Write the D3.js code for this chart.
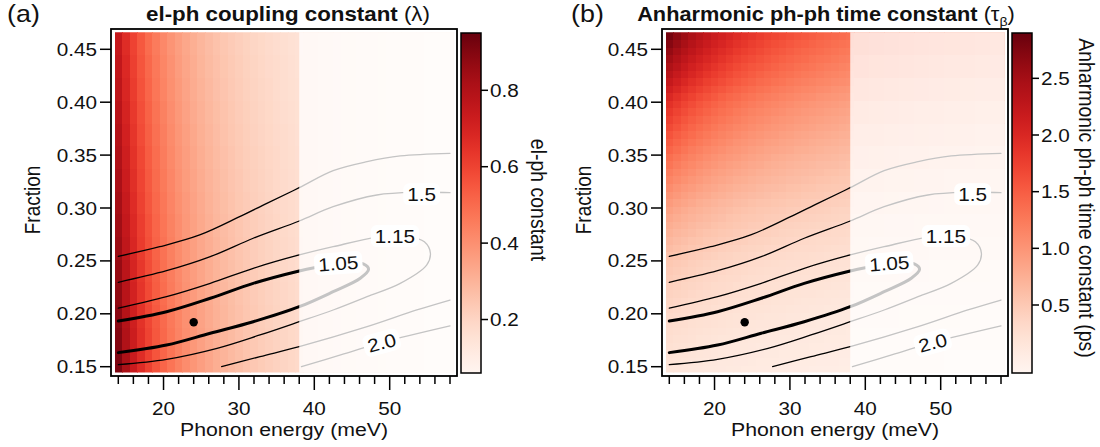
<!DOCTYPE html>
<html><head><meta charset="utf-8">
<script src="https://cdn.jsdelivr.net/npm/d3@7"></script>
<style>body{margin:0;background:#fff}svg{display:block}</style>
</head><body><svg id="chart" width="1100" height="447"></svg>
<script>
// ---------------- DATA ----------------
const energiesLeft = [14,15,16,17,18,19,20,21,22,23,24,25,26,27,28,29,30,31,32,33,34,35,36,37,38];
const energiesRightA = [39,40,41,42,43,44,45,46,47,48,49,50,51,52,53,54,55,56,57,58];
const energiesRightB = [39.5,41.5,43.5,45.5,47.5,49.5,51.5,53.5,55.5,57.5];
const fractionRows = [0.1480,0.1552,0.1623,0.1695,0.1766,0.1838,0.1909,0.1981,0.2052,0.2124,0.2195,0.2267,0.2338,0.2410,0.2481,0.2553,0.2624,0.2696,0.2767,0.2839,0.2910,0.2982,0.3053,0.3125,0.3196,0.3268,0.3339,0.3411,0.3482,0.3554,0.3625,0.3697,0.3768,0.3840,0.3911,0.3983,0.4054,0.4126,0.4197,0.4269,0.4340,0.4412,0.4483,0.4555,0.4626];
const fractionBands = [0.1552,0.1766,0.1981,0.2195,0.2410,0.2624,0.2839,0.3053,0.3268,0.3482,0.3697,0.3911,0.4126,0.4340,0.4555];

// el-ph coupling constant (lambda): rows = fractionBands (bottom->top), cols = energiesLeft
const lambdaLeft = [
[0.909,0.814,0.734,0.666,0.608,0.558,0.514,0.475,0.441,0.411,0.384,0.360,0.338,0.318,0.300,0.284,0.269,0.255,0.242,0.231,0.220,0.210,0.201,0.192,0.184],
[0.897,0.803,0.725,0.657,0.600,0.550,0.507,0.469,0.435,0.405,0.379,0.355,0.333,0.314,0.296,0.280,0.265,0.251,0.239,0.227,0.217,0.207,0.198,0.189,0.182],
[0.886,0.793,0.716,0.649,0.593,0.544,0.501,0.463,0.430,0.400,0.374,0.350,0.329,0.310,0.292,0.276,0.262,0.248,0.236,0.225,0.214,0.204,0.195,0.187,0.179],
[0.874,0.783,0.706,0.641,0.585,0.536,0.494,0.457,0.424,0.395,0.369,0.346,0.325,0.306,0.288,0.273,0.258,0.245,0.233,0.222,0.211,0.202,0.193,0.185,0.177],
[0.862,0.772,0.696,0.632,0.577,0.529,0.487,0.451,0.418,0.390,0.364,0.341,0.320,0.301,0.284,0.269,0.255,0.242,0.230,0.219,0.208,0.199,0.190,0.182,0.174],
[0.850,0.761,0.687,0.623,0.569,0.521,0.480,0.444,0.412,0.384,0.359,0.336,0.316,0.297,0.280,0.265,0.251,0.238,0.226,0.216,0.206,0.196,0.188,0.180,0.172],
[0.839,0.751,0.678,0.615,0.561,0.515,0.474,0.439,0.407,0.379,0.354,0.332,0.312,0.293,0.277,0.262,0.248,0.235,0.224,0.213,0.203,0.194,0.185,0.177,0.170],
[0.827,0.741,0.668,0.606,0.553,0.507,0.467,0.432,0.401,0.374,0.349,0.327,0.307,0.289,0.273,0.258,0.244,0.232,0.220,0.210,0.200,0.191,0.182,0.175,0.167],
[0.815,0.730,0.658,0.597,0.545,0.500,0.461,0.426,0.395,0.368,0.344,0.322,0.303,0.285,0.269,0.254,0.241,0.228,0.217,0.207,0.197,0.188,0.180,0.172,0.165],
[0.804,0.720,0.649,0.589,0.538,0.493,0.454,0.420,0.390,0.363,0.339,0.318,0.299,0.281,0.265,0.251,0.237,0.225,0.214,0.204,0.194,0.186,0.177,0.170,0.163],
[0.792,0.709,0.640,0.580,0.530,0.486,0.448,0.414,0.384,0.358,0.334,0.313,0.294,0.277,0.261,0.247,0.234,0.222,0.211,0.201,0.192,0.183,0.175,0.167,0.160],
[0.780,0.698,0.630,0.572,0.522,0.479,0.441,0.408,0.378,0.353,0.329,0.308,0.290,0.273,0.257,0.243,0.230,0.219,0.208,0.198,0.189,0.180,0.172,0.165,0.158],
[0.768,0.688,0.620,0.563,0.514,0.471,0.434,0.401,0.373,0.347,0.324,0.304,0.285,0.268,0.253,0.240,0.227,0.215,0.205,0.195,0.186,0.177,0.169,0.162,0.155],
[0.757,0.678,0.611,0.555,0.506,0.464,0.428,0.396,0.367,0.342,0.320,0.299,0.281,0.265,0.250,0.236,0.224,0.212,0.202,0.192,0.183,0.175,0.167,0.160,0.153],
[0.745,0.667,0.602,0.546,0.498,0.457,0.421,0.389,0.361,0.337,0.315,0.295,0.277,0.260,0.246,0.232,0.220,0.209,0.198,0.189,0.180,0.172,0.164,0.157,0.151]
];
const lambdaRight = [0.161,0.154,0.148,0.143,0.137,0.132,0.128,0.123,0.119,0.115,0.111,0.108,0.105,0.101,0.098,0.095,0.093,0.090,0.087,0.085];

// anharmonic ph-ph time constant (ps): rows = fractionRows (bottom->top), cols = energiesLeft
const tauLeft = [
[0.16,0.15,0.14,0.13,0.12,0.11,0.11,0.10,0.09,0.09,0.08,0.08,0.07,0.07,0.06,0.06,0.05,0.05,0.05,0.04,0.04,0.04,0.04,0.03,0.03],
[0.19,0.17,0.16,0.15,0.14,0.13,0.12,0.11,0.11,0.10,0.10,0.09,0.08,0.08,0.08,0.07,0.07,0.06,0.06,0.06,0.05,0.05,0.05,0.04,0.04],
[0.21,0.19,0.18,0.17,0.16,0.15,0.14,0.13,0.12,0.12,0.11,0.10,0.10,0.09,0.09,0.08,0.08,0.08,0.07,0.07,0.06,0.06,0.06,0.05,0.05],
[0.23,0.21,0.20,0.19,0.18,0.17,0.16,0.15,0.14,0.13,0.13,0.12,0.11,0.11,0.10,0.10,0.09,0.09,0.09,0.08,0.08,0.07,0.07,0.07,0.06],
[0.25,0.23,0.22,0.21,0.19,0.18,0.17,0.16,0.16,0.15,0.14,0.13,0.13,0.12,0.12,0.11,0.11,0.10,0.10,0.09,0.09,0.08,0.08,0.08,0.07],
[0.27,0.25,0.24,0.22,0.21,0.20,0.19,0.18,0.17,0.16,0.16,0.15,0.14,0.13,0.13,0.12,0.12,0.11,0.11,0.10,0.10,0.10,0.09,0.09,0.08],
[0.29,0.27,0.26,0.24,0.23,0.22,0.21,0.20,0.19,0.18,0.17,0.16,0.15,0.15,0.14,0.14,0.13,0.13,0.12,0.12,0.11,0.11,0.10,0.10,0.10],
[0.31,0.29,0.28,0.26,0.25,0.23,0.22,0.21,0.20,0.19,0.18,0.18,0.17,0.16,0.16,0.15,0.14,0.14,0.13,0.13,0.12,0.12,0.11,0.11,0.11],
[0.34,0.32,0.30,0.29,0.27,0.26,0.24,0.23,0.22,0.21,0.20,0.19,0.19,0.18,0.17,0.17,0.16,0.15,0.15,0.14,0.14,0.13,0.13,0.12,0.12],
[0.37,0.35,0.33,0.31,0.30,0.28,0.27,0.25,0.24,0.23,0.22,0.21,0.21,0.20,0.19,0.18,0.18,0.17,0.16,0.16,0.15,0.15,0.14,0.14,0.13],
[0.40,0.38,0.36,0.34,0.32,0.30,0.29,0.28,0.27,0.25,0.24,0.23,0.22,0.22,0.21,0.20,0.19,0.19,0.18,0.18,0.17,0.16,0.16,0.15,0.15],
[0.43,0.41,0.38,0.36,0.35,0.33,0.31,0.30,0.29,0.27,0.26,0.25,0.24,0.24,0.23,0.22,0.21,0.20,0.20,0.19,0.19,0.18,0.17,0.17,0.16],
[0.46,0.43,0.41,0.39,0.37,0.35,0.34,0.32,0.31,0.30,0.28,0.27,0.26,0.25,0.25,0.24,0.23,0.22,0.21,0.21,0.20,0.20,0.19,0.18,0.18],
[0.49,0.46,0.44,0.42,0.40,0.38,0.36,0.35,0.33,0.32,0.31,0.29,0.28,0.27,0.26,0.26,0.25,0.24,0.23,0.22,0.22,0.21,0.21,0.20,0.19],
[0.52,0.49,0.47,0.44,0.42,0.40,0.38,0.37,0.35,0.34,0.33,0.31,0.30,0.29,0.28,0.27,0.26,0.26,0.25,0.24,0.23,0.23,0.22,0.21,0.21],
[0.57,0.54,0.51,0.48,0.46,0.44,0.42,0.40,0.39,0.37,0.36,0.35,0.33,0.32,0.31,0.30,0.29,0.28,0.28,0.27,0.26,0.25,0.25,0.24,0.23],
[0.62,0.59,0.56,0.53,0.50,0.48,0.46,0.44,0.42,0.41,0.39,0.38,0.37,0.35,0.34,0.33,0.32,0.31,0.30,0.30,0.29,0.28,0.27,0.26,0.26],
[0.67,0.63,0.60,0.57,0.55,0.52,0.50,0.48,0.46,0.44,0.43,0.41,0.40,0.39,0.37,0.36,0.35,0.34,0.33,0.32,0.31,0.31,0.30,0.29,0.28],
[0.72,0.68,0.65,0.62,0.59,0.56,0.54,0.52,0.50,0.48,0.46,0.45,0.43,0.42,0.41,0.39,0.38,0.37,0.36,0.35,0.34,0.33,0.32,0.32,0.31],
[0.77,0.73,0.70,0.66,0.63,0.61,0.58,0.56,0.54,0.52,0.50,0.48,0.47,0.45,0.44,0.42,0.41,0.40,0.39,0.38,0.37,0.36,0.35,0.34,0.33],
[0.82,0.78,0.74,0.71,0.68,0.65,0.62,0.60,0.57,0.55,0.53,0.52,0.50,0.48,0.47,0.46,0.44,0.43,0.42,0.41,0.40,0.39,0.38,0.37,0.36],
[0.88,0.83,0.79,0.75,0.72,0.69,0.66,0.64,0.61,0.59,0.57,0.55,0.53,0.52,0.50,0.49,0.47,0.46,0.45,0.44,0.43,0.42,0.40,0.39,0.39],
[0.94,0.89,0.85,0.81,0.77,0.74,0.71,0.68,0.66,0.63,0.61,0.59,0.57,0.56,0.54,0.53,0.51,0.50,0.48,0.47,0.46,0.45,0.44,0.43,0.42],
[1.01,0.96,0.91,0.87,0.83,0.80,0.76,0.74,0.71,0.68,0.66,0.64,0.62,0.60,0.58,0.57,0.55,0.54,0.52,0.51,0.50,0.48,0.47,0.46,0.45],
[1.08,1.02,0.97,0.93,0.89,0.85,0.82,0.79,0.76,0.73,0.71,0.69,0.66,0.64,0.63,0.61,0.59,0.58,0.56,0.55,0.53,0.52,0.51,0.50,0.49],
[1.15,1.09,1.04,0.99,0.95,0.91,0.87,0.84,0.81,0.78,0.76,0.73,0.71,0.69,0.67,0.65,0.63,0.62,0.60,0.59,0.57,0.56,0.54,0.53,0.52],
[1.21,1.15,1.10,1.05,1.00,0.96,0.92,0.89,0.86,0.83,0.80,0.78,0.75,0.73,0.71,0.69,0.67,0.65,0.64,0.62,0.61,0.59,0.58,0.56,0.55],
[1.29,1.22,1.16,1.11,1.06,1.02,0.98,0.94,0.91,0.88,0.85,0.82,0.80,0.77,0.75,0.73,0.71,0.69,0.68,0.66,0.64,0.63,0.62,0.60,0.59],
[1.35,1.28,1.22,1.17,1.12,1.07,1.03,0.99,0.96,0.93,0.90,0.87,0.84,0.82,0.79,0.77,0.75,0.73,0.71,0.70,0.68,0.67,0.65,0.63,0.62],
[1.43,1.36,1.29,1.23,1.18,1.13,1.09,1.05,1.01,0.98,0.95,0.92,0.89,0.86,0.84,0.82,0.80,0.77,0.76,0.74,0.72,0.70,0.69,0.67,0.66],
[1.51,1.43,1.36,1.30,1.25,1.20,1.15,1.11,1.07,1.03,1.00,0.97,0.94,0.91,0.89,0.86,0.84,0.82,0.80,0.78,0.76,0.75,0.73,0.71,0.70],
[1.58,1.50,1.43,1.37,1.31,1.26,1.21,1.17,1.13,1.09,1.05,1.02,0.99,0.96,0.94,0.91,0.89,0.86,0.84,0.82,0.80,0.79,0.77,0.75,0.74],
[1.66,1.58,1.50,1.43,1.37,1.32,1.27,1.22,1.18,1.14,1.11,1.07,1.04,1.01,0.98,0.96,0.93,0.91,0.89,0.87,0.84,0.83,0.81,0.79,0.77],
[1.74,1.65,1.57,1.50,1.44,1.38,1.33,1.28,1.24,1.20,1.16,1.12,1.09,1.06,1.03,1.00,0.98,0.95,0.93,0.91,0.89,0.87,0.85,0.83,0.81],
[1.81,1.72,1.64,1.57,1.51,1.45,1.39,1.34,1.30,1.25,1.21,1.17,1.14,1.11,1.08,1.05,1.02,1.00,0.97,0.95,0.93,0.91,0.89,0.87,0.85],
[1.89,1.80,1.71,1.64,1.57,1.51,1.45,1.40,1.35,1.31,1.27,1.23,1.19,1.16,1.13,1.10,1.07,1.04,1.02,0.99,0.97,0.95,0.93,0.91,0.89],
[1.99,1.89,1.80,1.73,1.65,1.59,1.53,1.47,1.42,1.38,1.33,1.29,1.25,1.22,1.19,1.16,1.13,1.10,1.07,1.05,1.02,1.00,0.98,0.96,0.94],
[2.10,2.00,1.90,1.82,1.75,1.68,1.61,1.56,1.50,1.45,1.41,1.36,1.32,1.29,1.25,1.22,1.19,1.16,1.13,1.11,1.08,1.06,1.03,1.01,0.99],
[2.21,2.10,2.00,1.91,1.84,1.76,1.70,1.64,1.58,1.53,1.48,1.44,1.39,1.36,1.32,1.29,1.25,1.22,1.19,1.17,1.14,1.12,1.09,1.07,1.05],
[2.32,2.20,2.10,2.01,1.93,1.85,1.78,1.72,1.66,1.60,1.56,1.51,1.46,1.42,1.39,1.35,1.32,1.28,1.25,1.23,1.20,1.17,1.15,1.12,1.10],
[2.41,2.30,2.19,2.09,2.01,1.93,1.86,1.79,1.73,1.67,1.62,1.57,1.53,1.49,1.45,1.41,1.38,1.34,1.31,1.28,1.25,1.22,1.20,1.17,1.15],
[2.51,2.39,2.28,2.18,2.09,2.01,1.94,1.87,1.80,1.74,1.69,1.64,1.59,1.55,1.51,1.47,1.43,1.40,1.37,1.33,1.30,1.28,1.25,1.22,1.20],
[2.61,2.48,2.37,2.27,2.18,2.09,2.01,1.94,1.88,1.81,1.76,1.71,1.66,1.61,1.57,1.53,1.49,1.45,1.42,1.39,1.36,1.33,1.30,1.27,1.25],
[2.71,2.58,2.46,2.35,2.26,2.17,2.09,2.02,1.95,1.88,1.83,1.77,1.72,1.67,1.63,1.59,1.55,1.51,1.48,1.44,1.41,1.38,1.35,1.32,1.30],
[2.81,2.67,2.55,2.44,2.34,2.25,2.16,2.09,2.02,1.95,1.89,1.84,1.78,1.73,1.69,1.65,1.61,1.57,1.53,1.50,1.46,1.43,1.40,1.37,1.34]
];
// rows = fractionBands, cols = energiesRightB
const tauRight = [
[0.04,0.03,0.03,0.02,0.02,0.02,0.01,0.01,0.01,0.01],
[0.07,0.06,0.06,0.05,0.05,0.04,0.04,0.04,0.03,0.03],
[0.10,0.09,0.09,0.08,0.08,0.07,0.07,0.06,0.06,0.05],
[0.14,0.13,0.13,0.12,0.11,0.11,0.10,0.10,0.09,0.09],
[0.19,0.18,0.17,0.16,0.15,0.14,0.14,0.13,0.13,0.12],
[0.25,0.24,0.23,0.22,0.21,0.20,0.19,0.18,0.17,0.17],
[0.32,0.31,0.29,0.28,0.27,0.26,0.25,0.24,0.23,0.22],
[0.40,0.39,0.37,0.36,0.34,0.33,0.32,0.31,0.30,0.29],
[0.50,0.48,0.46,0.45,0.43,0.42,0.40,0.39,0.38,0.36],
[0.60,0.58,0.56,0.54,0.52,0.50,0.48,0.47,0.45,0.44],
[0.71,0.69,0.66,0.64,0.62,0.60,0.58,0.56,0.54,0.53],
[0.83,0.79,0.77,0.74,0.71,0.69,0.67,0.65,0.63,0.61],
[0.96,0.93,0.89,0.86,0.84,0.81,0.78,0.76,0.74,0.72],
[1.12,1.07,1.04,1.00,0.97,0.94,0.91,0.88,0.86,0.84],
[1.26,1.21,1.17,1.13,1.10,1.06,1.03,1.00,0.97,0.95]
];

// contour lines [energy meV, fraction]
const contour2p0Upper = [[14,0.2543],[19.5,0.2634],[24.8,0.2745],[30.1,0.2918],[33.7,0.3044],[38.0,0.3192],[42.5,0.3353],[47.0,0.3438],[51.4,0.3492],[58.0,0.3517]];
const contour1p5Upper = [[14,0.2298],[20.4,0.2407],[26.2,0.2540],[31.9,0.2714],[38.0,0.2877],[42.5,0.3012],[48.3,0.3123],[54.0,0.3148],[58,0.3145]];
const contour1p15 = [[14,0.2053],[20.4,0.2162],[26.2,0.2288],[31.9,0.2430],[38.0,0.2556],[42.5,0.2634],[48.3,0.2723],[52.5,0.2730],[54.6,0.2680],[55.4,0.2572],[54.9,0.2461],[51.4,0.2288],[47.0,0.2162],[42.5,0.2036],[38.0,0.1925],[32.8,0.1800],[27.1,0.1674],[20.4,0.1570],[14,0.1520]];
const contour1p05 = [[14,0.1931],[20.4,0.2020],[26.2,0.2147],[31.9,0.2288],[38.0,0.2405],[40.3,0.2440],[43.2,0.2477],[46.5,0.2471],[47.2,0.2421],[46.1,0.2336],[42.5,0.2209],[38.0,0.2067],[31.9,0.1925],[26.2,0.1816],[20.4,0.1705],[14,0.1633]];
const contour1p5Lower = [[27.7,0.1500],[32.8,0.1595],[38.0,0.1689],[47.0,0.1878],[53.6,0.2036],[58,0.2130]];
const contour2p0Lower = [[38.3,0.1500],[43.6,0.1614],[48.9,0.1727],[58,0.1885]];
const contourLevels = [
  {pts: contour2p0Upper, w: 1.3}, {pts: contour1p5Upper, w: 1.3}, {pts: contour1p15, w: 1.3},
  {pts: contour1p05, w: 3.0}, {pts: contour1p5Lower, w: 1.3}, {pts: contour2p0Lower, w: 1.3}
];
const contourLabels = [
  {text: "1.5", e: 54.24, f: 0.3130, angle: 0},
  {text: "1.15", e: 50.7, f: 0.2735, angle: 0},
  {text: "1.05", e: 43.18, f: 0.2477, angle: -4},
  {text: "2.0", e: 48.94, f: 0.1727, angle: -15}
];
const bestFit = [24, 0.192];
const excludedFrom = 38;
const xMajorTicks = [20,30,40,50];
const xMinorTicks = [14,16,18,22,24,26,28,32,34,36,38,42,44,46,48,52,54,56,58];
const yTicks = [0.15,0.20,0.25,0.30,0.35,0.40,0.45];
const lambdaTicks = [0.2,0.4,0.6,0.8];
const tauTicks = [0.5,1.0,1.5,2.0,2.5];

// ---------------- DRAW ----------------
const svg = d3.select("#chart");
const FONT = "'Liberation Sans', Arial, Helvetica, sans-serif";
const SX = 1.12;

function label(parent, x, y, str, o = {}) {
  const tr = o.vertical
    ? `translate(${x},${y}) scale(${SX},1) rotate(${o.rotate || 0})`
    : `translate(${x},${y}) rotate(${o.rotate || 0}) scale(${SX},1)`;
  const t = parent.append("g").attr("transform", tr).append("text")
    .attr("font-family", FONT).attr("font-size", o.size || 18.5)
    .attr("font-weight", o.weight || "normal")
    .attr("text-anchor", o.anchor || "start").attr("fill", "#111");
  if (o.baseline) t.attr("dominant-baseline", o.baseline);
  t.text(str);
  return t;
}

function edges(c) {
  return c.map((v, i) => {
    const prev = i > 0 ? c[i - 1] : v - (c[1] - c[0]);
    const next = i < c.length - 1 ? c[i + 1] : v + (v - c[i - 1]);
    return [(prev + v) / 2, (v + next) / 2];
  });
}

const y = d3.scaleLinear().domain([0.15, 0.45]).range([366.7, 49.3]);
const rowEdges = edges(fractionRows);
const bandEdges = edges(fractionBands);
const fBottom = rowEdges[0][0], fTop = rowEdges[rowEdges.length - 1][1];

const panels = [
  {dx: 0, tag: "(a)", tagX: 7, title: ["el-ph coupling constant ", "(λ)"], titleX: 288, titleW: 284, kind: "a",
   color: d3.scaleSequential(d3.interpolateReds).domain([0.06, 0.95]), ticks: lambdaTicks,
   cbLabel: "el-ph constant", cbLabelX: 531, cbLabelY: 200},
  {dx: 551, tag: "(b)", tagX: 571, title: ["Anharmonic ph-ph time constant ", "(τ"], titleX: 826, titleW: 378, kind: "b",
   color: d3.scaleSequential(d3.interpolateReds).domain([-0.1, 2.9]), ticks: tauTicks,
   cbLabel: "Anharmonic ph-ph time constant (ps)", cbLabelX: 1079, cbLabelY: 198}
];

panels.forEach((P, pi) => {
  const x = d3.scaleLinear().domain([14, 58]).range([118.3 + P.dx, 450 + P.dx]);
  const g = svg.append("g");
  const eL = edges(energiesLeft);
  const dataX0 = x(eL[0][0]), dataX1 = x(58.5);
  const clipId = "clip" + pi;
  g.append("clipPath").attr("id", clipId).append("rect")
    .attr("x", dataX0).attr("y", y(fTop)).attr("width", dataX1 - dataX0).attr("height", y(fBottom) - y(fTop));

  const heat = g.append("g").attr("clip-path", `url(#${clipId})`).attr("shape-rendering", "crispEdges");
  if (P.kind === "a") {
    lambdaLeft.forEach((row, ri) => row.forEach((v, ci) => {
      heat.append("rect").attr("x", x(eL[ci][0])).attr("y", y(bandEdges[ri][1]))
        .attr("width", x(eL[ci][1]) - x(eL[ci][0]) + 0.6).attr("height", y(bandEdges[ri][0]) - y(bandEdges[ri][1]) + 0.6)
        .attr("fill", P.color(v));
    }));
    const eR = edges(energiesRightA);
    lambdaRight.forEach((v, ci) => {
      heat.append("rect").attr("x", x(eR[ci][0])).attr("y", y(fTop))
        .attr("width", x(eR[ci][1]) - x(eR[ci][0]) + 0.6).attr("height", y(fBottom) - y(fTop))
        .attr("fill", P.color(v));
    });
  } else {
    tauLeft.forEach((row, ri) => row.forEach((v, ci) => {
      heat.append("rect").attr("x", x(eL[ci][0])).attr("y", y(rowEdges[ri][1]))
        .attr("width", x(eL[ci][1]) - x(eL[ci][0]) + 0.6).attr("height", y(rowEdges[ri][0]) - y(rowEdges[ri][1]) + 0.6)
        .attr("fill", P.color(v));
    }));
    const eR = edges(energiesRightB);
    tauRight.forEach((row, ri) => row.forEach((v, ci) => {
      heat.append("rect").attr("x", x(eR[ci][0])).attr("y", y(bandEdges[ri][1]))
        .attr("width", x(eR[ci][1]) - x(eR[ci][0]) + 0.6).attr("height", y(bandEdges[ri][0]) - y(bandEdges[ri][1]) + 0.6)
        .attr("fill", P.color(v));
    }));
  }

  // contours
  const line = d3.line().x(d => x(d[0])).y(d => y(d[1])).curve(d3.curveCatmullRom.alpha(0.5));
  const cg = g.append("g").attr("clip-path", `url(#${clipId})`);
  contourLevels.forEach(c => {
    cg.append("path").attr("d", line(c.pts)).attr("fill", "none").attr("stroke", "#000")
      .attr("stroke-width", c.w).attr("stroke-linecap", "round").attr("stroke-linejoin", "round");
  });
  cg.append("circle").attr("cx", x(bestFit[0])).attr("cy", y(bestFit[1])).attr("r", 4.2).attr("fill", "#000");

  // excluded region overlay
  g.append("rect").attr("x", x(excludedFrom)).attr("y", y(fTop))
    .attr("width", dataX1 - x(excludedFrom)).attr("height", y(fBottom) - y(fTop))
    .attr("fill", "#fff").attr("fill-opacity", 0.77);

  // contour labels
  contourLabels.forEach(L => {
    const lg = g.append("g").attr("transform", `translate(${x(L.e)},${y(L.f)}) rotate(${L.angle})`);
    const box = lg.append("rect");
    const t = lg.append("g").attr("transform", `scale(${SX},1)`).append("text")
      .attr("font-family", FONT).attr("font-size", 18.5).attr("text-anchor", "middle")
      .attr("dy", "0.36em").attr("fill", "#111").text(L.text);
    const w = t.node().getComputedTextLength() * SX + 8;
    box.attr("x", -w / 2).attr("y", -11).attr("width", w).attr("height", 22).attr("rx", 6).attr("fill", "#fff");
  });

  // frame
  g.append("rect").attr("x", 111 + P.dx).attr("y", 29).attr("width", 346).attr("height", 347)
    .attr("fill", "none").attr("stroke", "#000").attr("stroke-width", 1.8);

  // y axis
  yTicks.forEach(v => {
    g.append("line").attr("x1", 100 + P.dx).attr("x2", 111 + P.dx).attr("y1", y(v)).attr("y2", y(v))
      .attr("stroke", "#000").attr("stroke-width", 1.5);
    label(g, 97 + P.dx, y(v), d3.format(".2f")(v), {anchor: "end", baseline: "central"});
  });
  // x axis
  xMinorTicks.forEach(v => {
    g.append("line").attr("x1", x(v)).attr("x2", x(v)).attr("y1", 376).attr("y2", 384)
      .attr("stroke", "#000").attr("stroke-width", 1.5);
  });
  xMajorTicks.forEach(v => {
    g.append("line").attr("x1", x(v)).attr("x2", x(v)).attr("y1", 376).attr("y2", 390)
      .attr("stroke", "#000").attr("stroke-width", 1.5);
    label(g, x(v), 415, String(v), {anchor: "middle"});
  });
  label(g, 284 + P.dx, 436, "Phonon energy (meV)", {anchor: "middle", size: 19});
  label(g, 40 + P.dx, 200, "Fraction", {anchor: "middle", size: 19, rotate: -90, vertical: true});

  // colorbar
  const cbx = 461 + P.dx, cbw = 20, cbTop = 33, cbBot = 373;
  const gradId = "grad" + pi;
  const grad = g.append("defs").append("linearGradient").attr("id", gradId)
    .attr("x1", 0).attr("x2", 0).attr("y1", 1).attr("y2", 0);
  d3.range(0, 1.0001, 0.05).forEach(t => {
    grad.append("stop").attr("offset", t).attr("stop-color", d3.interpolateReds(t));
  });
  g.append("rect").attr("x", cbx).attr("y", cbTop).attr("width", cbw).attr("height", cbBot - cbTop)
    .attr("fill", `url(#${gradId})`).attr("stroke", "#000").attr("stroke-width", 1.5);
  const cy = d3.scaleLinear().domain(P.color.domain()).range([cbBot, cbTop]);
  P.ticks.forEach(v => {
    g.append("line").attr("x1", cbx + cbw).attr("x2", cbx + cbw + 7).attr("y1", cy(v)).attr("y2", cy(v))
      .attr("stroke", "#000").attr("stroke-width", 1.5);
    label(g, cbx + cbw + 9, cy(v), d3.format(".1f")(v), {baseline: "central"});
  });
  label(g, P.cbLabelX, P.cbLabelY, P.cbLabel, {anchor: "middle", size: 19.5, rotate: 90, vertical: true});

  // panel tag
  label(g, P.tagX, 22, P.tag, {size: 24});
  // title (fit to measured width)
  const tg = g.append("g");
  const tt = tg.append("text").attr("font-family", FONT).attr("font-size", 20).attr("text-anchor", "middle").attr("fill", "#111");
  tt.append("tspan").attr("font-weight", "bold").text(P.title[0]);
  tt.append("tspan").text(P.title[1]);
  if (P.kind === "b") {
    tt.append("tspan").attr("font-size", 13).attr("dy", 5).text("β");
    tt.append("tspan").attr("dy", -5).text(")");
  }
  const tw = tt.node().getBBox().width;
  tg.attr("transform", `translate(${P.titleX},21) scale(${P.titleW / tw},1)`);
});
</script>
</body></html>
